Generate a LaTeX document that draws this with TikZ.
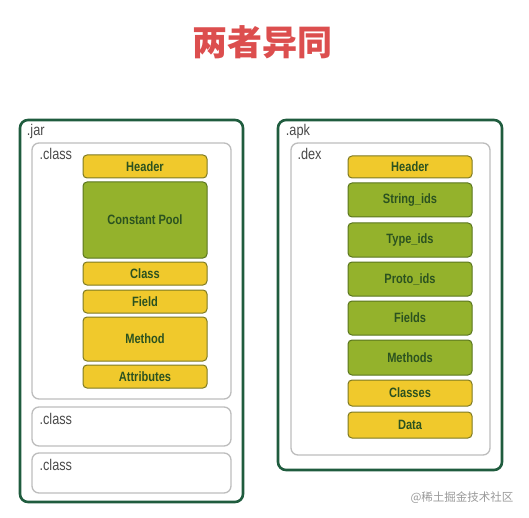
\documentclass[tikz,border=0pt]{standalone}
\usepackage{fontspec}
\setmainfont{Liberation Sans}
\newfontfamily\cjk{Noto Sans CJK SC}
\newfontfamily\boxfont[FakeStretch=0.82]{Liberation Sans}
\usetikzlibrary{positioning}
\definecolor{titlered}{HTML}{DC4E4E}
\definecolor{outergreen}{HTML}{1F5C3E}
\definecolor{innergray}{HTML}{BDBDBD}
\definecolor{ygold}{HTML}{F0C92C}
\definecolor{yedge}{HTML}{7E7A22}
\definecolor{olive}{HTML}{94B22C}
\definecolor{gedge}{HTML}{5A761E}
\definecolor{itemtext}{HTML}{2B5220}
\definecolor{lbltext}{HTML}{4A4A4A}
\tikzset{
  outerbox/.style={draw=outergreen, line width=2.6pt, rounded corners=8pt, fill=white},
  innerbox/.style={draw=innergray, line width=1.3pt, rounded corners=7pt, fill=white},
  lbl/.style={anchor=north west, inner sep=0pt, text=lbltext,
    font=\boxfont\fontsize{15.5}{17}\selectfont}
}

\begin{document}
\begin{tikzpicture}[x=1pt, y=-1pt,
  ybox/.style={draw=yedge, line width=1pt, fill=ygold, rounded corners=4pt,
    minimum width=124pt, text=itemtext, font=\boxfont\fontsize{13.5}{15}\selectfont\bfseries},
  gbox/.style={draw=gedge, line width=1pt, fill=olive, rounded corners=4pt,
    minimum width=124pt, text=itemtext, font=\boxfont\fontsize{13.5}{15}\selectfont\bfseries}
]
\useasboundingbox (0,0) rectangle (529,518);

%% Title
\node[text=titlered, font=\cjk\bfseries\fontsize{35}{37}\selectfont] (title) at (262,42) {两者异同};

%% .jar side
\node[outerbox, minimum width=223pt, minimum height=382pt] (jar) at (131.5,311) {};
\node[lbl] (jarlbl) at ([xshift=8pt,yshift=-5pt]jar.north west) {.jar};

\node[innerbox, minimum width=199pt, minimum height=256pt] (cls1) at (131.5,271) {};
\node[lbl] (cls1lbl) at ([xshift=8pt,yshift=-6pt]cls1.north west) {.class};
\node[innerbox, minimum width=199pt, minimum height=39pt] (cls2) at (131.5,426.5) {};
\node[lbl] (cls2lbl) at ([xshift=8pt,yshift=-7pt]cls2.north west) {.class};
\node[innerbox, minimum width=199pt, minimum height=40pt] (cls3) at (131.5,473) {};
\node[lbl] (cls3lbl) at ([xshift=8pt,yshift=-7pt]cls3.north west) {.class};

\node[ybox, minimum height=23pt] (jhead) at (145,166.5) {Header};
\node[gbox, minimum height=76pt] (jpool) at (145,220) {Constant Pool};
\node[ybox, minimum height=23pt] (jclass) at (145,273.5) {Class};
\node[ybox, minimum height=23pt] (jfield) at (145,301.5) {Field};
\node[ybox, minimum height=44pt] (jmethod) at (145,339) {Method};
\node[ybox, minimum height=23pt] (jattr) at (145,376.5) {Attributes};

%% .apk side
\node[outerbox, minimum width=224pt, minimum height=350pt] (apk) at (390,295) {};
\node[lbl] (apklbl) at ([xshift=9pt,yshift=-5pt]apk.north west) {.apk};

\node[innerbox, minimum width=199pt, minimum height=312pt] (dex) at (390.5,299) {};
\node[lbl] (dexlbl) at ([xshift=7pt,yshift=-6pt]dex.north west) {.dex};

\node[ybox, minimum height=22pt] (dhead) at (410,167) {Header};
\node[gbox, minimum height=34pt] (dstr) at (410,200) {String\_ids};
\node[gbox, minimum height=34pt] (dtype) at (410,240) {Type\_ids};
\node[gbox, minimum height=34pt] (dproto) at (410,279) {Proto\_ids};
\node[gbox, minimum height=34pt] (dfields) at (410,318) {Fields};
\node[gbox, minimum height=35pt] (dmethods) at (410,357.5) {Methods};
\node[ybox, minimum height=26pt] (dclasses) at (410,393) {Classes};
\node[ybox, minimum height=26pt] (ddata) at (410,425) {Data};

%% watermark
\node[text=black!40, font=\cjk\fontsize{11.5}{13}\selectfont, anchor=east] (mark) at (517,498) {@稀土掘金技术社区};

\end{tikzpicture}
\end{document}
